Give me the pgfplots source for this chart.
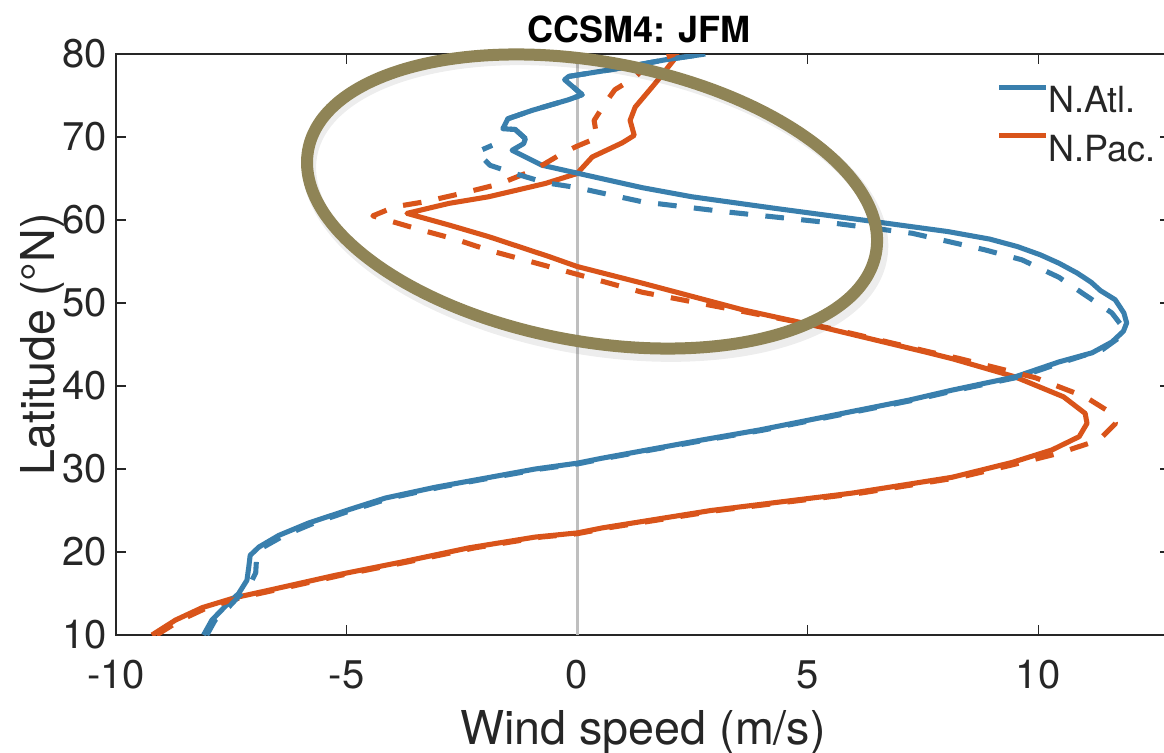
\documentclass[border=0pt]{standalone}
\usepackage{fontspec}
\setmainfont{TeX Gyre Heros}
\usepackage{pgfplots}
\pgfplotsset{compat=1.18}
\usepackage{pgfplotstable}
\definecolor{cblue}{HTML}{397FAD}
\definecolor{corange}{HTML}{D9541A}
\definecolor{colive}{HTML}{8F8456}
\definecolor{axgray}{HTML}{262626}

% N.Atl. solid
\pgfplotstableread{
x y
-8.10 10.0
-7.92 11.8
-7.64 13.4
-7.34 15.0
-7.16 16.6
-7.12 18.2
-7.09 19.6
-6.90 20.6
-6.47 22.0
-5.82 23.5
-4.95 25.1
-4.16 26.5
-3.08 27.8
-1.99 28.9
-0.91 30.0
0.00 30.7
0.54 31.3
2.71 33.5
3.95 34.7
5.03 35.9
7.20 38.3
8.13 39.5
9.50 41.1
10.45 42.9
11.17 44.0
11.60 45.3
11.85 46.6
11.92 47.6
11.86 48.8
11.67 50.4
11.35 51.5
11.15 52.5
10.85 53.6
10.45 54.8
10.05 55.8
9.55 56.8
8.95 57.7
8.05 58.6
6.46 59.8
4.30 61.4
2.49 62.8
1.41 63.9
0.04 65.6
-0.76 66.6
-1.41 68.4
-1.16 69.2
-1.12 69.8
-1.34 70.9
-1.61 71.0
-1.50 72.2
-0.98 73.2
-0.18 74.5
0.11 75.1
-0.27 76.9
-0.18 77.3
0.83 78.2
1.91 79.3
2.78 80.0
}\atlsolid

% N.Atl. dashed
\pgfplotstableread{
x y
-8.03 10.0
-7.85 11.8
-7.55 13.4
-7.28 15.0
-7.05 16.6
-6.97 17.5
-6.95 19.4
-6.80 20.6
-6.35 22.0
-5.70 23.5
-4.85 25.1
-4.05 26.5
-2.98 27.8
-1.90 28.9
-0.80 30.0
0.00 30.6
0.62 31.3
2.80 33.5
4.05 34.7
5.13 35.9
7.30 38.3
8.23 39.5
9.60 41.1
10.55 42.9
11.40 44.4
11.75 45.8
11.82 47.2
11.60 48.8
11.17 50.4
10.45 53.1
9.65 55.2
8.85 56.4
7.27 58.4
5.60 59.6
3.20 61.0
1.41 62.2
0.00 63.9
-0.69 64.5
-1.41 65.7
-1.89 66.6
-2.17 68.2
-1.84 69.0
nan nan
-1.12 69.8
-1.34 70.9
-1.61 71.0
-1.50 72.2
-0.98 73.2
-0.18 74.5
0.11 75.1
-0.27 76.9
-0.18 77.3
0.83 78.2
1.91 79.3
2.78 80.0
}\atldash

% N.Pac. solid
\pgfplotstableread{
x y
-9.22 10.0
-8.71 11.8
-8.13 13.3
-7.42 14.5
-6.68 15.4
-5.24 17.2
-3.80 18.8
-2.35 20.5
-0.91 21.8
0.00 22.3
0.54 22.9
2.90 25.0
5.97 27.1
8.13 29.0
9.44 30.8
10.30 32.3
10.89 33.9
11.06 35.5
11.02 36.7
10.55 38.7
9.50 41.1
8.13 43.3
7.55 44.1
5.38 47.0
3.58 49.2
1.41 52.4
0.00 54.4
-0.61 55.6
-1.92 58.0
-2.78 59.4
-3.69 60.8
-2.78 62.0
-1.92 62.8
-0.69 64.4
0.00 65.6
0.33 67.6
0.98 69.3
1.24 70.2
1.15 72.0
1.26 73.6
1.70 76.5
2.20 80.0
}\pacsolid

% N.Pac. dashed
\pgfplotstableread{
x y
-9.12 10.0
-8.60 11.8
-8.02 13.3
-7.30 14.5
-6.56 15.4
-5.12 17.2
-3.68 18.8
-2.22 20.5
-0.78 21.8
0.00 22.2
0.66 22.9
3.05 25.0
6.15 27.1
8.30 29.0
9.44 30.5
10.45 31.9
11.32 33.5
11.68 35.5
11.60 36.7
11.02 38.7
9.94 41.0
8.30 43.3
7.65 44.1
5.45 47.0
3.58 49.0
1.41 51.3
-0.29 53.9
-1.08 55.1
-1.88 56.3
-2.65 57.7
-3.45 58.9
-4.43 60.5
-3.95 61.6
-3.30 62.2
-2.51 63.2
-1.71 64.3
-0.94 66.0
-0.39 67.8
-0.04 68.8
0.43 69.9
0.37 72.0
0.60 74.0
0.82 75.7
1.26 77.2
1.56 78.9
2.13 80.0
}\pacdash

\begin{document}
\begin{tikzpicture}
\begin{axis}[
  at={(0,0)}, anchor=south west,
  scale only axis, width=395.25pt, height=217.875pt,
  xmin=-10, xmax=12.86, ymin=10, ymax=80,
  xtick={-10,-5,0,5,10}, xticklabels={-10,-5,0,5,10},
  ytick={10,20,30,40,50,60,70,80}, yticklabels={10,20,30,40,50,60,70,80},
  tick align=inside, major tick length=3.75pt,
  tick style={axgray, line width=0.4pt},
  axis line style={axgray, line width=0.5pt},
  ticklabel style={font=\fontsize{15}{18}\selectfont, text=axgray},
  xticklabel style={yshift=-6pt},
  xlabel={Wind speed (m/s)}, ylabel={Latitude (°N)},
  label style={font=\fontsize{17.5}{21}\selectfont, text=axgray},
  xlabel style={at={(axis description cs:0.5,-0.1893)}, anchor=base},
  ylabel style={at={(axis description cs:-0.0579,0.5)}, anchor=base},
  title={CCSM4: JFM},
  title style={font=\fontsize{13.5}{16}\selectfont\bfseries, at={(axis description cs:0.4963,0.9931)}, anchor=base},
  legend style={at={(axis description cs:0.8349,0.9483)}, anchor=north west, draw=none, fill=none, inner sep=0pt, row sep=7.55pt, column sep=0pt, font=\fontsize{13.5}{16}\selectfont, text=axgray, nodes={inner sep=0pt, text height=9.7pt, text depth=0pt}},
  legend cell align=left,
  legend image code/.code={\draw[#1, line width=1.9pt] (0pt,4.85pt) -- (17.6pt,4.85pt);},
  unbounded coords=jump,
  every axis plot/.append style={line width=1.9pt, line join=round},
]
\addplot[forget plot, color=gray!50, line width=1.1pt] coordinates {(0,10) (0,80)};
\addplot[forget plot, corange] table[x=x, y=y] {\pacsolid};
\addplot[forget plot, cblue] table[x=x, y=y] {\atlsolid};
\addplot[forget plot, corange, dash pattern=on 7pt off 6.5pt] table[x=x, y=y] {\pacdash};
\addplot[forget plot, cblue, dash pattern=on 7pt off 6.5pt] table[x=x, y=y] {\atldash};
\addlegendimage{cblue}
\addlegendentry{N.Atl.}
\addlegendimage{corange}
\addlegendentry{N.Pac.}
\coordinate (ec) at (axis cs:0.325,62.23);
\end{axis}
\draw[black, opacity=0.07, line width=5pt, shift={(ec)}, shift={(1.3pt,-2pt)}, rotate=-10.25] (0,0) ellipse [x radius=108.6pt, y radius=53pt];
\draw[colive, line width=4.5pt, shift={(ec)}, rotate=-10.25] (0,0) ellipse [x radius=108.2pt, y radius=52.5pt];
\pgfresetboundingbox
\useasboundingbox (-43.5pt,-43.875pt) rectangle (393pt,238.125pt);
\end{tikzpicture}
\end{document}
